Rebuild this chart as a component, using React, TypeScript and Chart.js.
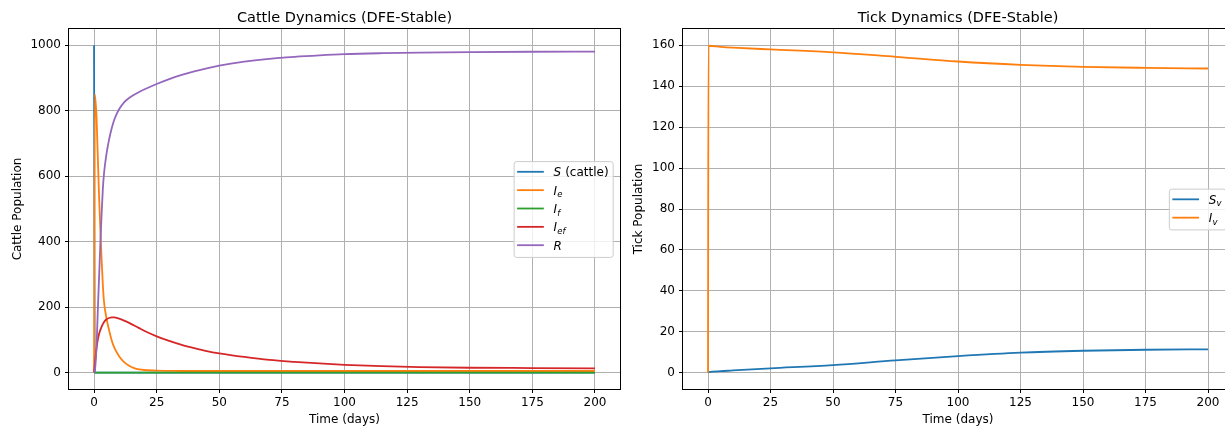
import React, { useEffect, useRef } from "react";
import { Chart, registerables } from "chart.js";

Chart.register(...registerables);

// ---------------- data ----------------
const cattleTime = [0, 0.3, 1, 1.5, 2, 2.5, 3, 3.5, 4, 5, 6, 7, 8, 9, 10, 12, 14, 16, 18, 20, 25, 30, 35, 40, 45, 50, 60, 70, 80, 90, 100, 115, 130, 150, 175, 200];
const cattleS = [1000, 0, 0, 0, 0, 0, 0, 0, 0, 0, 0, 0, 0, 0, 0, 0, 0, 0, 0, 0, 0, 0, 0, 0, 0, 0, 0, 0, 0, 0, 0, 0, 0, 0, 0, 0];
const cattleIe = [0, 850, 780, 660, 540, 440, 350, 270, 215, 165, 130, 100, 78, 63, 50, 32, 21, 14, 10, 8, 6, 5.5, 5, 5, 5, 5, 5, 5, 5, 5, 5, 5, 5, 5, 5, 5];
const cattleIf = [0, 0, 0, 0, 0, 0, 0, 0, 0, 0, 0, 0, 0, 0, 0, 0, 0, 0, 0, 0, 0, 0, 0, 0, 0, 0, 0, 0, 0, 0, 0, 0, 0, 0, 0, 0];
const cattleIef = [0, 25, 75, 100, 118, 130, 140, 148, 155, 163, 167, 169, 169, 167, 165, 159, 152, 144, 136, 128, 111, 97, 85, 75, 66, 59, 48, 39, 33, 28, 24, 20, 17, 15, 14, 13];
const cattleR = [0, 5, 80, 190, 290, 390, 480, 560, 610, 670, 712, 745, 771, 790, 805, 826, 839, 849, 857.5, 865, 882, 897, 909.5, 920.5, 930, 938, 950, 959, 965, 969.5, 973, 976, 978, 979.5, 980.5, 981];

const tickTime = [0, 0.2, 5, 10, 25, 50, 75, 100, 125, 150, 175, 200];
const tickSv = [0, 0.2, 0.7, 1.1, 2.1, 3.7, 6.0, 8.1, 9.8, 10.7, 11.2, 11.4];
const tickIv = [0, 159.8, 159.3, 158.9, 158.0, 156.6, 154.4, 152.1, 150.5, 149.5, 149.0, 148.7];

const timeTicks = [0, 25, 50, 75, 100, 125, 150, 175, 200];
const cattleTicks = [0, 200, 400, 600, 800, 1000];
const tickPopTicks = [0, 20, 40, 60, 80, 100, 120, 140, 160];

type Seg = { t: string; it?: boolean; sub?: boolean };
const cattleLabels: Seg[][] = [
  [{ t: "S", it: true }, { t: " (cattle)" }],
  [{ t: "I", it: true }, { t: "e", it: true, sub: true }],
  [{ t: "I", it: true }, { t: "f", it: true, sub: true }],
  [{ t: "I", it: true }, { t: "ef", it: true, sub: true }],
  [{ t: "R", it: true }],
];
const tickLabels: Seg[][] = [
  [{ t: "S", it: true }, { t: "v", it: true, sub: true }],
  [{ t: "I", it: true }, { t: "v", it: true, sub: true }],
];

const COLORS = ["#1f77b4", "#ff7f0e", "#2ca02c", "#d62728", "#9467bd"];
const FONT = '"DejaVu Sans"';

type Spec = {
  title: string;
  xTitle: string;
  yTitle: string;
  yTitleX: number;
  time: number[];
  series: number[][];
  labels: Seg[][];
  yMin: number;
  yMax: number;
  yTicks: number[];
  yAxisWidth: number;
  padRight: number;
};

const cattleSpec: Spec = {
  title: "Cattle Dynamics (DFE-Stable)",
  xTitle: "Time (days)",
  yTitle: "Cattle Population",
  yTitleX: 21.2,
  time: cattleTime,
  series: [cattleS, cattleIe, cattleIf, cattleIef, cattleR],
  labels: cattleLabels,
  yMin: -50,
  yMax: 1050,
  yTicks: cattleTicks,
  yAxisWidth: 69,
  padRight: 2,
};

const tickSpec: Spec = {
  title: "Tick Dynamics (DFE-Stable)",
  xTitle: "Time (days)",
  yTitle: "Tick Population",
  yTitleX: 20.2,
  time: tickTime,
  series: [tickSv, tickIv],
  labels: tickLabels,
  yMin: -8,
  yMax: 168,
  yTicks: tickPopTicks,
  yAxisWidth: 61,
  padRight: 29,
};

const LFS = 12;
const SFS = 8.5;
function segFont(s: Seg) {
  return `${s.it ? "italic " : ""}${s.sub ? SFS : LFS}px ${FONT}`;
}

function decorPlugin(spec: Spec) {
  return {
    id: "decor",
    afterDraw(chart: any) {
      const { ctx, chartArea: a } = chart;
      ctx.save();
      // spines
      ctx.strokeStyle = "#000";
      ctx.lineWidth = 1;
      ctx.strokeRect(Math.round(a.left) - 0.5, Math.round(a.top) - 0.5, Math.round(a.right - a.left) + 1, Math.round(a.bottom - a.top) + 1);

      // titles
      ctx.fillStyle = "#000";
      ctx.textAlign = "center";
      ctx.textBaseline = "alphabetic";
      ctx.font = `14.5px ${FONT}`;
      ctx.fillText(spec.title, (a.left + a.right) / 2, a.top - 7);
      ctx.font = `12px ${FONT}`;
      ctx.fillText(spec.xTitle, (a.left + a.right) / 2, a.bottom + 33.5);
      ctx.save();
      ctx.translate(spec.yTitleX, (a.top + a.bottom) / 2);
      ctx.rotate(-Math.PI / 2);
      ctx.fillText(spec.yTitle, 0, 0);
      ctx.restore();

      // legend
      ctx.textAlign = "left";
      const widths = spec.labels.map((segs) =>
        segs.reduce((w, s) => {
          ctx.font = segFont(s);
          return w + ctx.measureText(s.t).width;
        }, 0)
      );
      const maxW = Math.max(...widths);
      const n = spec.labels.length;
      const rowH = 18.35;
      const boxW = 3.5 + 26.7 + 9.6 + maxW + 4.4;
      const boxH = 10.7 + (n - 1) * rowH + 11.7;
      const right = a.right - 7.3;
      const left = right - boxW;
      const top = (a.top + a.bottom) / 2 - boxH / 2;
      ctx.beginPath();
      ctx.roundRect(left + 0.5, top + 0.5, boxW, boxH, 2.5);
      ctx.fillStyle = "rgba(255,255,255,0.8)";
      ctx.fill();
      ctx.strokeStyle = "#cccccc";
      ctx.lineWidth = 1;
      ctx.stroke();
      spec.labels.forEach((segs, i) => {
        const y = top + 10.7 + i * rowH;
        ctx.beginPath();
        ctx.moveTo(left + 3.5, y);
        ctx.lineTo(left + 30.2, y);
        ctx.strokeStyle = COLORS[i];
        ctx.lineWidth = 1.8;
        ctx.stroke();
        let x = left + 39.8;
        ctx.fillStyle = "#000";
        segs.forEach((s) => {
          ctx.font = segFont(s);
          ctx.fillText(s.t, x, y + 4.4 + (s.sub ? 2.6 : 0));
          x += ctx.measureText(s.t).width + (s.sub ? 0 : 0.3);
        });
      });
      ctx.restore();
    },
  };
}

function buildConfig(spec: Spec): any {
  const nSeries = spec.series.length;
  const datasets = spec.series.map((vals, i) => ({
    label: `series${i}`,
    data: spec.time.map((t, j) => ({ x: t, y: vals[j] })),
    borderColor: COLORS[i],
    backgroundColor: COLORS[i],
    borderWidth: 1.8,
    pointRadius: 0,
    fill: false,
    cubicInterpolationMode: "monotone",
    order: nSeries - i,
  }));
  const tickFont = { family: FONT, size: 12 };
  const grid = {
    color: "#b0b0b0",
    lineWidth: 1,
    tickColor: "#000",
    tickLength: 4,
    tickWidth: 1,
    drawTicks: true,
    drawOnChartArea: true,
  };
  return {
    type: "line",
    data: { datasets },
    options: {
      animation: false,
      responsive: false,
      maintainAspectRatio: false,
      devicePixelRatio: 1,
      events: [],
      layout: { padding: { left: 0, right: spec.padRight, top: 29, bottom: 0 } },
      plugins: {
        legend: { display: false },
        tooltip: { enabled: false },
        title: { display: false },
      },
      scales: {
        x: {
          type: "linear",
          min: -10,
          max: 210,
          afterBuildTicks: (s: any) => {
            s.ticks = timeTicks.map((v) => ({ value: v }));
          },
          afterFit: (s: any) => {
            s.height = 38;
          },
          ticks: {
            autoSkip: false,
            maxRotation: 0,
            minRotation: 0,
            padding: 3,
            color: "#000",
            font: tickFont,
            callback: (v: any) => String(v),
          },
          grid,
          border: { display: false },
        },
        y: {
          type: "linear",
          min: spec.yMin,
          max: spec.yMax,
          afterBuildTicks: (s: any) => {
            s.ticks = spec.yTicks.map((v) => ({ value: v }));
          },
          afterFit: (s: any) => {
            s.width = spec.yAxisWidth;
          },
          ticks: {
            autoSkip: false,
            padding: 4,
            color: "#000",
            font: tickFont,
            callback: (v: any) => String(v),
          },
          grid,
          border: { display: false },
        },
      },
    },
    plugins: [decorPlugin(spec)],
  };
}

function Panel({ left, width, spec }: { left: number; width: number; spec: Spec }) {
  const ref = useRef<HTMLCanvasElement | null>(null);
  useEffect(() => {
    if (!ref.current) return;
    const chart = new Chart(ref.current, buildConfig(spec));
    return () => chart.destroy();
  }, [spec]);
  return (
    <canvas
      ref={ref}
      width={width}
      height={427}
      style={{ position: "absolute", left, top: 0, width, height: 427, display: "block" }}
    />
  );
}

export default function App() {
  return (
    <div
      style={{
        position: "absolute",
        left: 0,
        top: 0,
        width: 1225,
        height: 427,
        overflow: "hidden",
        background: "#ffffff",
      }}
    >
      <Panel left={0} width={622} spec={cattleSpec} />
      <Panel left={622} width={640} spec={tickSpec} />
    </div>
  );
}
